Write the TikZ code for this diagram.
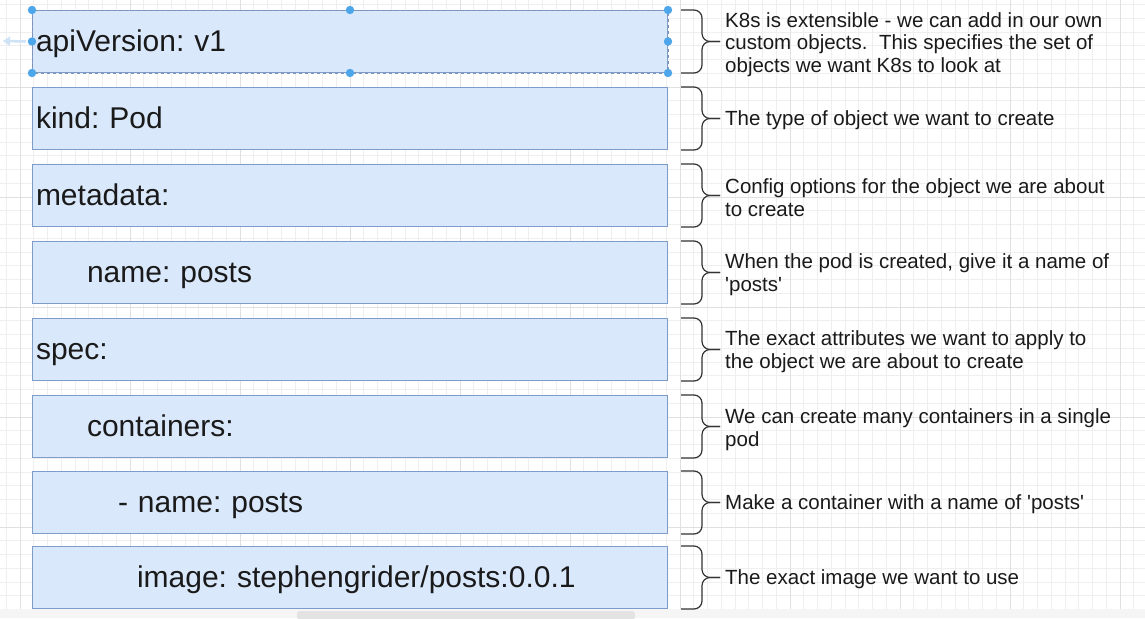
\documentclass[tikz,border=0pt]{standalone}
\usepackage{fontspec}
\newfontfamily\uifont{Liberation Sans}
\usetikzlibrary{arrows.meta}
\definecolor{boxfill}{HTML}{DAE8FC}
\definecolor{boxline}{HTML}{7E9CC9}
\definecolor{ink}{HTML}{1A1A1A}
\definecolor{bracecol}{HTML}{333333}
\definecolor{handle}{HTML}{4DA6EA}
\definecolor{hovercol}{HTML}{CFE2F6}
\definecolor{gridminor}{HTML}{EFEFEF}
\definecolor{gridmajor}{HTML}{E0E0E0}
\frenchspacing

\begin{document}
\begin{tikzpicture}[x=1pt,y=1pt]
	\tikzstyle{field}=[draw=boxline,fill=boxfill,line width=1pt,anchor=north west,minimum width=635pt,minimum height=62pt,inner xsep=3.5pt,inner ysep=0pt,text width=628pt,align=left,text height=24pt,text depth=4pt,font=\uifont\fontsize{30}{36}\selectfont,text=ink]
	\tikzstyle{note}=[anchor=west,align=left,inner xsep=5pt,yshift=-2.5pt,font=\uifont\fontsize{20.5}{22.5}\selectfont,text=ink]
	\tikzstyle{brace}=[draw=bracecol,line width=1.2pt,rounded corners=8pt]
	\useasboundingbox (0,0) rectangle (1145,-618);
	\fill[white] (0,0) rectangle (1145,-618);
	% grid
	\begin{scope}[shift={(20,-87)}]
		\draw[gridminor,line width=0.6pt,step=13.75] (-20,-531) grid (1125,87);
		\draw[gridmajor,line width=0.8pt,step=110] (-20,-531) grid (1125,87);
	\end{scope}
	\fill[gray!8] (0,-609) rectangle (1145,-618);
	\fill[gray!22,rounded corners=3pt] (297,-611) rectangle (635,-620);
	% fields
	\node[field] (api) at (32,-10) {apiVersion: v1};
	\node[field] (kind) at (32,-87) {kind: Pod};
	\node[field] (meta) at (32,-164) {metadata:};
	\node[field] (podname) at (32,-241) {\hspace*{51pt}name: posts};
	\node[field] (spec) at (32,-318) {spec:};
	\node[field] (ctrs) at (32,-395) {\hspace*{51pt}containers:};
	\node[field] (ctrname) at (32,-471) {\hspace*{82pt}- name: posts};
	\node[field] (ctrimg) at (32,-546) {\hspace*{101pt}image: stephengrider/posts:0.0.1};
	% notes
	\node[note] (n1) at (720,-42) {K8s is extensible - we can add in our own\\custom objects.\ \ This specifies the set of\\objects we want K8s to look at};
	\node[note] (n2) at (720,-118) {The type of object we want to create};
	\node[note] (n3) at (720,-195) {Config options for the object we are about\\to create};
	\node[note] (n4) at (720,-272) {When the pod is created, give it a name of\\'posts'};
	\node[note] (n5) at (720,-349) {The exact attributes we want to apply to\\the object we are about to create};
	\node[note] (n6) at (720,-427) {We can create many containers in a single\\pod};
	\node[note] (n7) at (720,-502) {Make a container with a name of 'posts'};
	\node[note] (n8) at (720,-577) {The exact image we want to use};
	% braces
	\draw[brace] ([xshift=13pt]api.north east) -- ([xshift=34pt]api.north east) -- ([xshift=34pt]api.east) -- (n1.west |- api.east);
	\draw[brace] ([xshift=13pt]api.south east) -- ([xshift=34pt]api.south east) -- ([xshift=34pt]api.east) -- (n1.west |- api.east);
	\draw[brace] ([xshift=13pt]kind.north east) -- ([xshift=34pt]kind.north east) -- ([xshift=34pt]kind.east) -- (n2.west |- kind.east);
	\draw[brace] ([xshift=13pt]kind.south east) -- ([xshift=34pt]kind.south east) -- ([xshift=34pt]kind.east) -- (n2.west |- kind.east);
	\draw[brace] ([xshift=13pt]meta.north east) -- ([xshift=34pt]meta.north east) -- ([xshift=34pt]meta.east) -- (n3.west |- meta.east);
	\draw[brace] ([xshift=13pt]meta.south east) -- ([xshift=34pt]meta.south east) -- ([xshift=34pt]meta.east) -- (n3.west |- meta.east);
	\draw[brace] ([xshift=13pt]podname.north east) -- ([xshift=34pt]podname.north east) -- ([xshift=34pt]podname.east) -- (n4.west |- podname.east);
	\draw[brace] ([xshift=13pt]podname.south east) -- ([xshift=34pt]podname.south east) -- ([xshift=34pt]podname.east) -- (n4.west |- podname.east);
	\draw[brace] ([xshift=13pt]spec.north east) -- ([xshift=34pt]spec.north east) -- ([xshift=34pt]spec.east) -- (n5.west |- spec.east);
	\draw[brace] ([xshift=13pt]spec.south east) -- ([xshift=34pt]spec.south east) -- ([xshift=34pt]spec.east) -- (n5.west |- spec.east);
	\draw[brace] ([xshift=13pt]ctrs.north east) -- ([xshift=34pt]ctrs.north east) -- ([xshift=34pt]ctrs.east) -- (n6.west |- ctrs.east);
	\draw[brace] ([xshift=13pt]ctrs.south east) -- ([xshift=34pt]ctrs.south east) -- ([xshift=34pt]ctrs.east) -- (n6.west |- ctrs.east);
	\draw[brace] ([xshift=13pt]ctrname.north east) -- ([xshift=34pt]ctrname.north east) -- ([xshift=34pt]ctrname.east) -- (n7.west |- ctrname.east);
	\draw[brace] ([xshift=13pt]ctrname.south east) -- ([xshift=34pt]ctrname.south east) -- ([xshift=34pt]ctrname.east) -- (n7.west |- ctrname.east);
	\draw[brace] ([xshift=13pt]ctrimg.north east) -- ([xshift=34pt]ctrimg.north east) -- ([xshift=34pt]ctrimg.east) -- (n8.west |- ctrimg.east);
	\draw[brace] ([xshift=13pt]ctrimg.south east) -- ([xshift=34pt]ctrimg.south east) -- ([xshift=34pt]ctrimg.east) -- (n8.west |- ctrimg.east);
	% selection of the first field
	\draw[boxline!70!gray,dashed,line width=0.8pt] (api.north west) rectangle (api.south east);
	\coordinate (hover) at (3,-41);
	\draw[hovercol,line width=2.5pt,-{Triangle[length=7pt,width=9pt]}] ([xshift=-6pt]api.west) -- (hover);
	\fill[handle] (api.north west) circle (4.2) (api.north) circle (4.2) (api.north east) circle (4.2)
		(api.west) circle (4.2) (api.east) circle (4.2)
		(api.south west) circle (4.2) (api.south) circle (4.2) (api.south east) circle (4.2);
\end{tikzpicture}
\end{document}
